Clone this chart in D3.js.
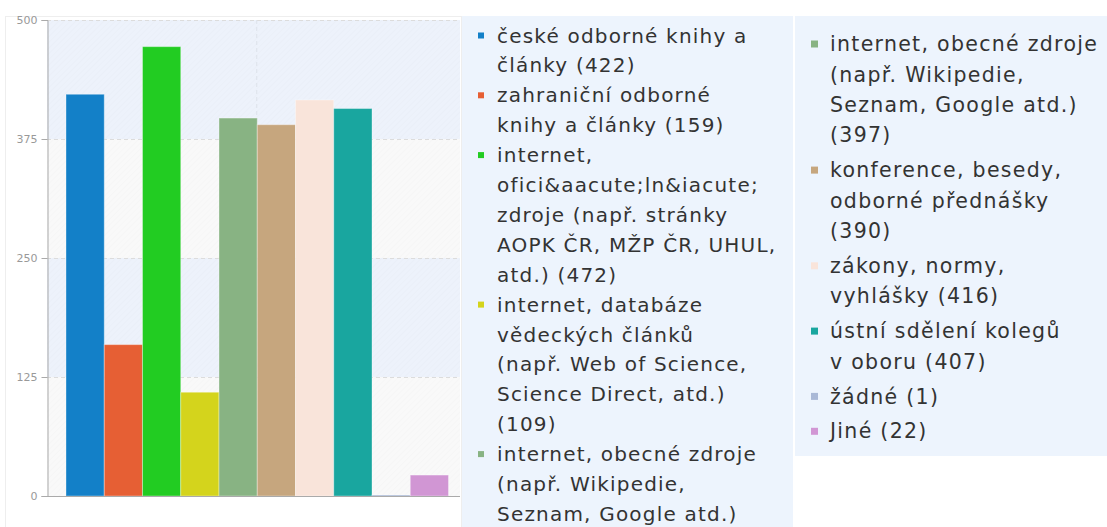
<!DOCTYPE html>
<html>
<head>
<meta charset="utf-8">
<script src="https://cdn.jsdelivr.net/npm/d3@7"></script>
<style>
  body { margin: 0; background: #fff; }
  svg { display: block; }
</style>
</head>
<body>
<svg id="chart" width="1107" height="527"></svg>
<script>
// answer categories, "\n" marks where the legend text wraps
const labels = [
    "české odborné knihy a\nčlánky",
    "zahraniční odborné\nknihy a články",
    "internet,\nofici&aacute;ln&iacute;\nzdroje (např. stránky\nAOPK ČR, MŽP ČR, UHUL,\natd.)",
    "internet, databáze\nvědeckých článků\n(např. Web of Science,\nScience Direct, atd.)\n",
    "internet, obecné zdroje\n(např. Wikipedie,\nSeznam, Google atd.)\n",
    "konference, besedy,\nodborné přednášky\n",
    "zákony, normy,\nvyhlášky",
    "ústní sdělení kolegů\nv oboru",
    "žádné",
    "Jiné"
];
const counts = [422, 159, 472, 109, 397, 390, 416, 407, 1, 22];
const colors = ["#1380c8", "#e65f34", "#22cc22", "#d4d41c", "#88b383",
                "#c6a67e", "#f9e4da", "#19a69f", "#a9b8d6", "#d196d4"];
const yTicks = [0, 125, 250, 375, 500];

const W = 1107, H = 527;
const svg = d3.select("#chart");
const font = "'DejaVu Sans', Verdana, sans-serif";

const plotL = 47, plotR = 460, plotT = 20, plotB = 496;
const y = d3.scaleLinear().domain([0, 500]).range([plotB, plotT]);
const x = d3.scaleBand().domain(d3.range(labels.length)).range([66, 448.5]).padding(0);

// faint frame around the chart part
svg.append("rect")
    .attr("x", 5.5).attr("y", 16.5).attr("width", 456).attr("height", 520)
    .attr("fill", "#fff").attr("stroke", "#eeeeee");

// hatch for the plot background
const defs = svg.append("defs");
const pat = defs.append("pattern")
    .attr("id", "hatch").attr("width", 4).attr("height", 4)
    .attr("patternUnits", "userSpaceOnUse")
    .attr("patternTransform", "rotate(45)");
pat.append("line").attr("x1", 0).attr("y1", 0).attr("x2", 0).attr("y2", 4)
    .attr("stroke", "#000").attr("stroke-opacity", 0.025).attr("stroke-width", 1);

// alternating bands
const bands = d3.pairs(yTicks);
svg.append("g").selectAll("rect")
    .data(bands)
    .join("rect")
    .attr("x", plotL).attr("width", plotR - plotL)
    .attr("y", d => y(d[1])).attr("height", d => y(d[0]) - y(d[1]))
    .attr("fill", (d, i) => i % 2 ? "#edf2fb" : "#f9f9f9");
svg.append("rect")
    .attr("x", plotL).attr("width", plotR - plotL)
    .attr("y", plotT).attr("height", plotB - plotT)
    .attr("fill", "url(#hatch)");

// grid
svg.append("g").selectAll("line")
    .data(yTicks.slice(1))
    .join("line")
    .attr("x1", plotL).attr("x2", plotR)
    .attr("y1", d => y(d) + 0.5).attr("y2", d => y(d) + 0.5)
    .attr("stroke", "#dcdcdc").attr("stroke-dasharray", "4,3");
svg.append("line")
    .attr("x1", x(5) - 0.5).attr("x2", x(5) - 0.5)
    .attr("y1", plotT).attr("y2", plotB)
    .attr("stroke", "#dde2ea").attr("stroke-dasharray", "4,3");

// bars
svg.append("g").selectAll("rect")
    .data(counts)
    .join("rect")
    .attr("x", (d, i) => x(i))
    .attr("width", x.bandwidth())
    .attr("y", d => y(d))
    .attr("height", d => Math.max(1.5, y(0) - y(d)))
    .attr("fill", (d, i) => colors[i])
    .attr("stroke", "#fff").attr("stroke-opacity", 0.35).attr("stroke-width", 1);

// y axis
const yAxis = svg.append("g")
    .attr("transform", `translate(${plotL + 0.5},0)`)
    .call(d3.axisLeft(y).tickValues(yTicks).tickSize(6).tickPadding(4));
yAxis.select(".domain").attr("stroke", "#aaa");
yAxis.selectAll(".tick line").attr("stroke", "#aaa");
yAxis.selectAll(".tick text").attr("fill", "#999").style("font", `11px ${font}`);

svg.append("line")
    .attr("x1", plotL).attr("x2", plotR)
    .attr("y1", plotB + 0.5).attr("y2", plotB + 0.5)
    .attr("stroke", "#aaa");

// legends: the page shows the legend twice, the second panel scrolled on
function legend(g, items, opt) {
    g.append("rect")
        .attr("x", opt.x).attr("y", 16)
        .attr("width", opt.w).attr("height", opt.h)
        .attr("fill", "#edf4fd");
    let cy = opt.y0;
    items.forEach(i => {
        const lines = (labels[i] + " (" + counts[i] + ")").split("\n").map(s => s.trim());
        if (cy < H) {
            g.append("rect")
                .attr("x", opt.x + opt.mx).attr("y", cy - opt.ms / 2)
                .attr("width", opt.ms).attr("height", opt.ms)
                .attr("fill", colors[i]);
            const t = g.append("text")
                .attr("x", opt.x + opt.tx).attr("y", cy)
                .attr("fill", "#333")
                .style("font", `${opt.fs}px ${font}`)
                .style("letter-spacing", `${opt.ls}px`);
            lines.forEach((s, k) => {
                const ly = cy + k * opt.lh;
                if (ly > H - 8) return; // scrolled out of the panel
                t.append("tspan")
                    .attr("x", opt.x + opt.tx)
                    .attr("y", ly)
                    .attr("dy", "0.35em")
                    .text(s);
            });
        }
        cy += lines.length * opt.lh + opt.gap;
    });
}

legend(svg.append("g"), d3.range(labels.length),
    {x: 462, w: 331, h: 520, y0: 35.5, lh: 29.9, gap: 0, fs: 20, ls: 1.2, mx: 16, ms: 6, tx: 35});
legend(svg.append("g"), d3.range(4, labels.length),
    {x: 795, w: 312, h: 440, y0: 44, lh: 30.4, gap: 4.5, fs: 20.5, ls: 1.3, mx: 16, ms: 7, tx: 35});
</script>
</body>
</html>
